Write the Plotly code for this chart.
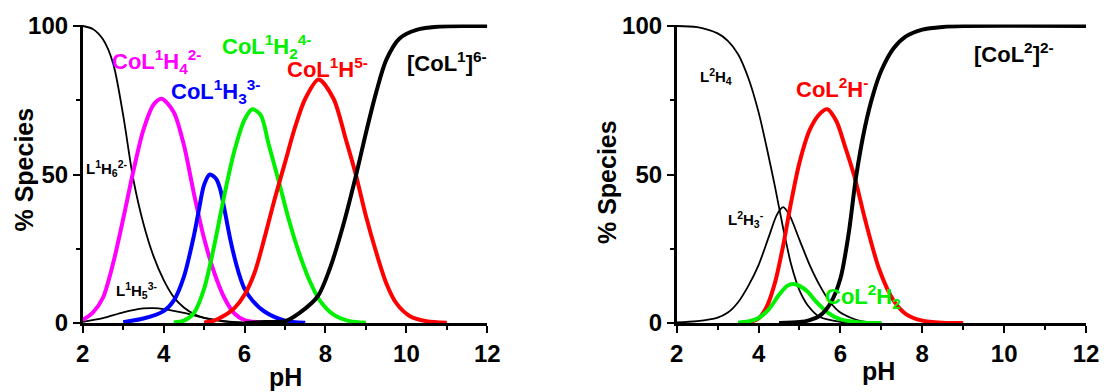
import plotly.graph_objects as go

# ---- Ligand L1 system (left panel) ----
l1h6_ph = [2.0, 2.25, 2.5, 2.75, 3.0, 3.25, 3.5, 3.75, 4.0, 4.25, 4.5, 4.75, 5.0, 5.5, 6.0, 7.0]
l1h6_pc = [100, 99, 95.5, 87.5, 70, 48.5, 33.5, 22.5, 14.5, 8.7, 5.2, 3.0, 1.7, 0.5, 0.1, 0]

l1h5_ph = [2.0, 2.5, 3.0, 3.5, 3.75, 4.0, 4.5, 5.0, 5.5, 6.0, 6.5]
l1h5_pc = [0.4, 1.6, 3.6, 4.9, 5.0, 4.7, 3.4, 1.7, 0.6, 0.1, 0]

col1h4_ph = [2.0, 2.25, 2.5, 2.75, 3.0, 3.25, 3.5, 3.75, 3.95, 4.25, 4.5, 4.75, 5.0, 5.25, 5.5, 5.75, 6.0, 6.5]
col1h4_pc = [1, 3.5, 8.5, 20, 35, 51, 65, 73.5, 75.5, 71, 60, 43.5, 28.5, 17, 8.5, 3.2, 1.0, 0.1]

col1h3_ph = [3.0, 3.5, 4.0, 4.25, 4.5, 4.75, 4.87, 5.0, 5.14, 5.3, 5.4, 5.5, 5.65, 5.8, 5.9, 6.0, 6.2, 6.5, 7.0, 7.5]
col1h3_pc = [0.3, 1.5, 4, 7.5, 15.5, 29.5, 38, 46.5, 50, 48.5, 45, 38.5, 28, 19.5, 15, 11.5, 7.5, 3.8, 0.8, 0.1]

col1h2_ph = [4.25, 4.5, 4.75, 5.0, 5.25, 5.5, 5.75, 6.0, 6.19, 6.4, 6.6, 6.85, 7.1, 7.35, 7.6, 7.85, 8.2, 8.6, 9.0]
col1h2_pc = [0.2, 0.8, 3.4, 11.5, 26, 43, 58, 68.5, 72, 70, 60, 47.5, 34.5, 23.5, 14.5, 7.8, 2.8, 0.6, 0.1]

col1h_ph = [5.0, 5.25, 5.5, 5.75, 6.0, 6.25, 6.5, 6.75, 7.0, 7.25, 7.5, 7.83, 8.2, 8.5, 8.75, 9.0, 9.25, 9.5, 9.75, 10.1, 10.5, 11.0]
col1h_pc = [0.2, 0.8, 2.5, 5, 9.5, 17, 29, 42, 54, 66, 75.5, 82, 75.5, 62, 50, 36, 24, 13.5, 6.7, 2.2, 0.6, 0.1]

col1_ph = [6.0, 6.5, 7.0, 7.36, 7.81, 8.1, 8.43, 8.76, 9.0, 9.26, 9.5, 9.83, 10.25, 10.83, 11.5, 12.0]
col1_pc = [0, 0.3, 0.6, 3.4, 9, 18, 32.5, 50, 64, 78, 88.5, 95.8, 98.7, 99.8, 100, 100]

# ---- Ligand L2 system (right panel) ----
l2h4_ph = [2.0, 2.5, 3.0, 3.25, 3.5, 3.75, 4.0, 4.2, 4.4, 4.6, 4.8, 5.0, 5.2, 5.5, 6.0, 6.5]
l2h4_pc = [100, 99.6, 97.5, 95, 90.5, 82.5, 71, 59, 46, 32, 19.5, 11, 6, 2, 0.4, 0]

l2h3_ph = [2.0, 2.5, 3.0, 3.25, 3.5, 3.75, 4.0, 4.25, 4.45, 4.6, 4.75, 5.0, 5.25, 5.5, 5.75, 6.0, 6.5, 7.0]
l2h3_pc = [0.2, 0.6, 1.8, 3.5, 7, 12.5, 19.5, 29, 36.5, 39, 36.5, 28, 19.5, 12.5, 7, 3.5, 0.6, 0.1]

col2h2_ph = [3.5, 3.75, 4.0, 4.25, 4.5, 4.7, 4.85, 5.0, 5.2, 5.4, 5.7, 6.0, 6.5, 7.0]
col2h2_pc = [0.1, 0.5, 1.7, 4.6, 9.5, 12.5, 13.1, 12.5, 10.5, 7.3, 3.4, 1.2, 0.2, 0]

col2h_ph = [3.75, 4.0, 4.2, 4.4, 4.6, 4.8, 5.0, 5.25, 5.5, 5.68, 5.9, 6.1, 6.35, 6.6, 6.95, 7.3, 7.6, 8.0, 8.5, 9.0]
col2h_pc = [0.2, 1.5, 5.5, 13.5, 26, 41, 54, 65, 70.5, 72, 68, 60, 49, 35, 18, 7.5, 3, 0.8, 0.1, 0]

col2_ph = [4.5, 5.0, 5.25, 5.5, 5.75, 6.0, 6.2, 6.38, 6.6, 6.8, 7.0, 7.3, 7.6, 8.0, 8.5, 9.0, 12.0]
col2_pc = [0, 0.3, 1, 2.5, 6.5, 15, 30, 49, 66, 77, 85, 92.5, 96.5, 98.8, 99.7, 100, 100]

ph_ticks = [2, 4, 6, 8, 10, 12]
pct_ticks = [0, 50, 100]

MAGENTA = "#ff00ff"
BLUE = "#0000ff"
GREEN = "#00f000"
RED = "#ff0000"
BLACK = "#000000"
THICK = 4
THIN = 1.8
FONT = "Liberation Sans, Arial, sans-serif"

fig = go.Figure()


def add_curve(ph, pc, color, width, axis):
    fig.add_trace(go.Scatter(
        x=ph, y=pc, mode="lines",
        line=dict(color=color, width=width, shape="spline", smoothing=0.8),
        xaxis="x" if axis == 1 else "x2",
        yaxis="y" if axis == 1 else "y2",
        hoverinfo="skip", showlegend=False,
    ))


# left panel
add_curve(l1h6_ph, l1h6_pc, BLACK, THIN, 1)
add_curve(l1h5_ph, l1h5_pc, BLACK, THIN, 1)
add_curve(col1h4_ph, col1h4_pc, MAGENTA, THICK, 1)
add_curve(col1h3_ph, col1h3_pc, BLUE, THICK, 1)
add_curve(col1h2_ph, col1h2_pc, GREEN, THICK, 1)
add_curve(col1h_ph, col1h_pc, RED, THICK, 1)
add_curve(col1_ph, col1_pc, BLACK, THICK, 1)

# right panel
add_curve(l2h4_ph, l2h4_pc, BLACK, THIN, 2)
add_curve(l2h3_ph, l2h3_pc, BLACK, THIN, 2)
add_curve(col2h_ph, col2h_pc, RED, THICK, 2)
add_curve(col2h2_ph, col2h2_pc, GREEN, THICK, 2)
add_curve(col2_ph, col2_pc, BLACK, THICK, 2)

W, H = 1104, 392
Y0, Y100 = 323, 26          # pixel rows of 0 % and 100 %
YTOP = 100.5
ytop_px = Y0 - (Y0 - Y100) * YTOP / 100
ydom = [1 - Y0 / H, 1 - ytop_px / H]

axis_common = dict(
    showline=True, linecolor=BLACK, linewidth=2.5, mirror=False,
    ticks="outside", ticklen=7, tickwidth=2, tickcolor=BLACK,
    showgrid=False, zeroline=False, automargin=False,
    tickfont=dict(family=FONT, size=24, color=BLACK, weight="bold"),
)

xaxis_common = dict(axis_common, range=[2, 12], tickvals=ph_ticks,
                    minor=dict(ticks="outside", ticklen=4, tickwidth=2,
                               tickcolor=BLACK, dtick=1, tick0=2))
yaxis_common = dict(axis_common, range=[0, YTOP], tickvals=pct_ticks,
                    minor=dict(ticks="outside", ticklen=4, tickwidth=2,
                               tickcolor=BLACK, tickvals=[25, 75]))

fig.update_layout(
    width=W, height=H,
    margin=dict(l=0, r=0, t=0, b=0, autoexpand=False),
    paper_bgcolor="white", plot_bgcolor="white",
    xaxis=dict(xaxis_common, domain=[82.7 / W, 487.3 / W], anchor="y"),
    yaxis=dict(yaxis_common, domain=ydom, anchor="x"),
    xaxis2=dict(xaxis_common, domain=[676.7 / W, 1086 / W], anchor="y2"),
    yaxis2=dict(yaxis_common, domain=ydom, anchor="x2"),
)

big = dict(family=FONT, size=22, weight="bold")
small = dict(family=FONT, size=15, weight="bold")

labels = [
    # (text, x, y, color, font, axis)
    ("CoL<sup>1</sup>H<sub>4</sub><sup>2-</sup>", 3.83, 88, MAGENTA, big, 1),
    ("CoL<sup>1</sup>H<sub>3</sub><sup>3-</sup>", 5.28, 78, BLUE, big, 1),
    ("CoL<sup>1</sup>H<sub>2</sub><sup>4-</sup>", 6.55, 93, GREEN, big, 1),
    ("CoL<sup>1</sup>H<sup>5-</sup>", 8.06, 86, RED, big, 1),
    ("[CoL<sup>1</sup>]<sup>6-</sup>", 11.0, 88, BLACK, big, 1),
    ("L<sup>1</sup>H<sub>6</sub><sup>2-</sup>", 2.6, 52, BLACK, small, 1),
    ("L<sup>1</sup>H<sub>5</sub><sup>3-</sup>", 3.35, 11, BLACK, small, 1),
    ("L<sup>2</sup>H<sub>4</sub>", 2.95, 83, BLACK, small, 2),
    ("L<sup>2</sup>H<sub>3</sub><sup>-</sup>", 3.7, 35, BLACK, small, 2),
    ("CoL<sup>2</sup>H<sup>-</sup>", 5.8, 79, RED, big, 2),
    ("[CoL<sup>2</sup>]<sup>2-</sup>", 10.25, 91, BLACK, big, 2),
    ("CoL<sup>2</sup>H<sub>2</sub>", 6.55, 9, GREEN, big, 2),
]
for text, x, y, color, font, ax in labels:
    fig.add_annotation(
        text=text, x=x, y=y,
        xref="x" if ax == 1 else "x2", yref="y" if ax == 1 else "y2",
        showarrow=False, font=dict(font, color=color),
        xanchor="center", yanchor="middle",
    )

title_font = dict(family=FONT, size=25, color=BLACK, weight="bold")
for x, y, text, angle in [
    (23.5, 170, "% Species", -90),
    (607, 182, "% Species", -90),
    (285.5, 377, "pH", 0),
    (878.5, 371, "pH", 0),
]:
    fig.add_annotation(
        text=text, x=x / W, y=1 - y / H, xref="paper", yref="paper",
        showarrow=False, textangle=angle, font=title_font,
        xanchor="center", yanchor="middle",
    )

fig.write_html("out.html")
